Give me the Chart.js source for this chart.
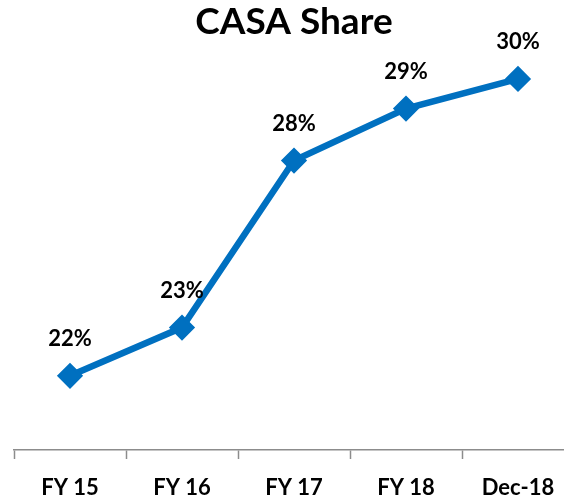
<!DOCTYPE html>
<html>
<head>
<meta charset="utf-8">
<script src="https://cdn.jsdelivr.net/npm/chart.js@4/dist/chart.umd.min.js"></script>
<style>
    html, body { margin: 0; padding: 0; background: #fff; }
    /* the original is cropped on the right, so the canvas is a bit wider than the window */
    #wrap { width: 564px; height: 501px; overflow: hidden; }
    #casa { display: block; width: 576px; height: 501px; }
</style>
</head>
<body>
<div id="wrap">
    <canvas id="casa" width="576" height="501"></canvas>
</div>
<script>
// periods on the x axis
const periods = ['FY 15', 'FY 16', 'FY 17', 'FY 18', 'Dec-18'];
// CASA share in % (labels show them rounded)
const casaShare = [21.9, 23.2, 27.7, 29.1, 29.9];

const lineBlue = '#0070C0';

// writes the rounded % above every point
const pointLabels = {
    id: 'pointLabels',
    afterDatasetsDraw(chart) {
        const ctx = chart.ctx;
        const meta = chart.getDatasetMeta(0);
        ctx.save();
        ctx.font = 'bold 22px Lato';
        ctx.fillStyle = '#000';
        ctx.textAlign = 'center';
        ctx.textBaseline = 'alphabetic';
        meta.data.forEach((pt, i) => {
            ctx.fillText(Math.round(casaShare[i]) + '%', pt.x, pt.y - 30);
        });
        ctx.restore();
    }
};

new Chart(document.getElementById('casa'), {
    type: 'line',
    data: {
        labels: periods,
        datasets: [{
            data: casaShare,
            borderColor: lineBlue,
            backgroundColor: lineBlue,
            borderWidth: 6.5,
            tension: 0,
            clip: false,
            pointStyle: 'rectRot',
            pointRadius: 11,
            pointBorderWidth: 3,
            pointBackgroundColor: lineBlue,
            pointBorderColor: lineBlue
        }]
    },
    options: {
        responsive: false,
        animation: false,
        layout: {
            autoPadding: false,
            padding: { left: 14, right: 2, top: 0, bottom: 0 }
        },
        plugins: {
            legend: { display: false },
            tooltip: { enabled: false },
            title: {
                display: true,
                text: 'CASA Share',
                color: '#000',
                font: { family: 'Lato', size: 37, weight: 'bold', lineHeight: 1.2 },
                padding: { top: 0, bottom: 0 }
            }
        },
        scales: {
            x: {
                offset: true,
                grid: {
                    offset: true,
                    drawOnChartArea: false,
                    tickLength: 9,
                    tickWidth: 1.5,
                    tickColor: '#8c8c8c'
                },
                border: { color: '#8c8c8c', width: 1.5 },
                ticks: {
                    color: '#000',
                    padding: 16,
                    font: { family: 'Lato', size: 22, weight: 'bold', lineHeight: 1.2 }
                },
                // keep the axis band tight and don't let label padding shrink the plot width
                afterFit(scale) {
                    scale.height = 51;
                    scale.paddingLeft = 0;
                    scale.paddingRight = 0;
                }
            },
            y: {
                display: false,
                min: 19.9,
                max: 30.83
            }
        }
    },
    plugins: [pointLabels]
});
</script>
</body>
</html>
